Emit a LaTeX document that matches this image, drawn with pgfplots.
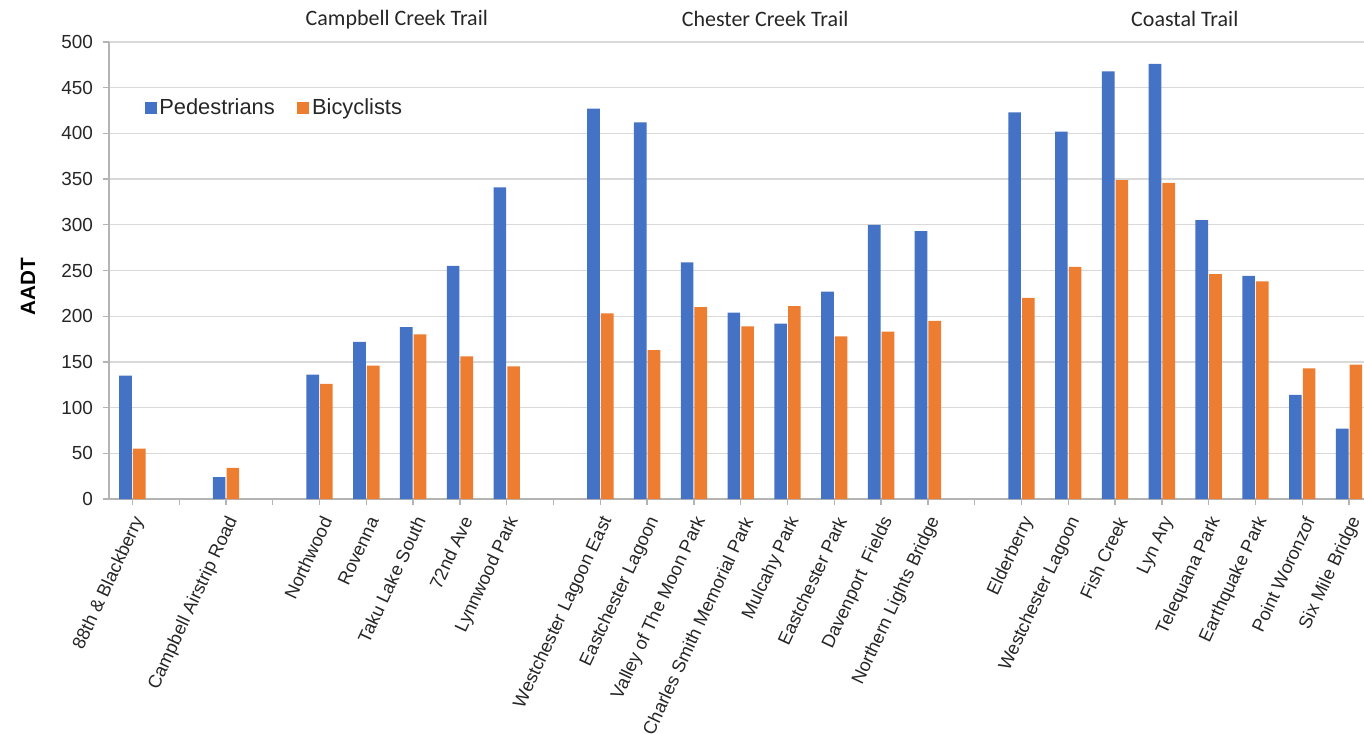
\documentclass[border=0pt]{standalone}
\usepackage{pgfplots}
\pgfplotsset{compat=1.18}
\usepackage{pgfplotstable}
\usepackage{fontspec}
\setmainfont{Liberation Sans}
\newfontfamily\calibri{Carlito}

\definecolor{pedblue}{HTML}{4472C4}
\definecolor{bikeorange}{HTML}{ED7D31}
\definecolor{txt}{HTML}{262626}
\definecolor{gridgray}{HTML}{D9D9D9}
\definecolor{axgray}{HTML}{B4B4B4}

% slot index, value (empty slots 1, 3, 9, 18 keep the trails apart)
\pgfplotstableread{
x  ped  bike
0  135  55
2  24   34
4  136  126
5  172  146
6  188  180
7  255  156
8  341  145
10 427  203
11 412  163
12 259  210
13 204  189
14 192  211
15 227  178
16 300  183
17 293  195
19 423  220
20 402  254
21 468  349
22 476  346
23 305  246
24 244  238
25 114  143
26 77   147
}\counts

\begin{document}
\begin{tikzpicture}
\path[use as bounding box] (-81.75pt,-175.5pt) rectangle (941.25pt,374.25pt);
\begin{axis}[
    at={(0,0)}, anchor=south west,
    scale only axis,
    width=941.25pt, height=342.75pt,
    ybar=0.8pt, bar width=0.27,
    xmin=-0.5, xmax=26.32,
    ymin=0, ymax=500,
    ytick={0,50,...,500},
    xtick={0,...,26},
    xticklabels={88th \& Blackberry,{},Campbell Airstrip Road,{},Northwood,Rovenna,Taku Lake South,72nd Ave,Lynnwood Park,{},Westchester Lagoon East,Eastchester Lagoon,Valley of The Moon Park,Charles Smith Memorial Park,Mulcahy Park,Eastchester Park,Davenport\ \ Fields,Northern Lights Bridge,{},Elderberry,Westchester Lagoon,Fish Creek,Lyn Ary,Telequana Park,Earthquake Park,Point Woronzof,Six Mile Bridge},
    x tick label style={rotate=65, anchor=east, font=\fontsize{13.7}{15}\selectfont, text=txt, yshift=-9pt, xshift=-3pt},
    y tick label style={font=\fontsize{14.2}{16}\selectfont, text=txt, xshift=-4pt},
    /pgf/number format/assume math mode=true,
    separate axis lines,
    axis x line*=bottom, axis y line*=left,
    axis line style={-, draw=axgray, line width=1.5pt},
    tick align=outside,
    major tick length=4.5pt,
    tick style={draw=axgray, line width=1pt},
    ymajorgrids,
    grid style={draw=gridgray, line width=1pt},
    ylabel={\textbf{AADT}},
    every axis y label/.style={at={(axis description cs:-0.0645,0.464)}, rotate=90, anchor=center, font=\fontsize{15.5}{18}\selectfont, text=black},
    legend style={at={(0.025,0.856)}, anchor=west, draw=none, fill=none,
        legend columns=-1, font=\fontsize{16.4}{19}\selectfont, text=txt,
        /tikz/every even column/.append style={column sep=15pt},
        /tikz/every odd column/.append style={inner sep=1pt}},
    legend image code/.code={\fill[#1] (0pt,-4.5pt) rectangle (9pt,4.5pt);},
    clip=false,
]
\addplot[fill=pedblue, draw=none] table[x=x, y=ped] {\counts};
\addplot[fill=bikeorange, draw=none] table[x=x, y=bike] {\counts};
\legend{Pedestrians, Bicyclists}

\node[font=\calibri\fontsize{16.5}{19}\selectfont, text=txt] at (axis cs:5.65,500) [yshift=17pt] {Campbell Creek Trail};
\node[font=\calibri\fontsize{16.5}{19}\selectfont, text=txt] at (axis cs:13.52,500) [yshift=17pt] {Chester Creek Trail};
\node[font=\calibri\fontsize{16.5}{19}\selectfont, text=txt] at (axis cs:22.49,500) [yshift=17pt] {Coastal Trail};
\end{axis}
\end{tikzpicture}
\end{document}
